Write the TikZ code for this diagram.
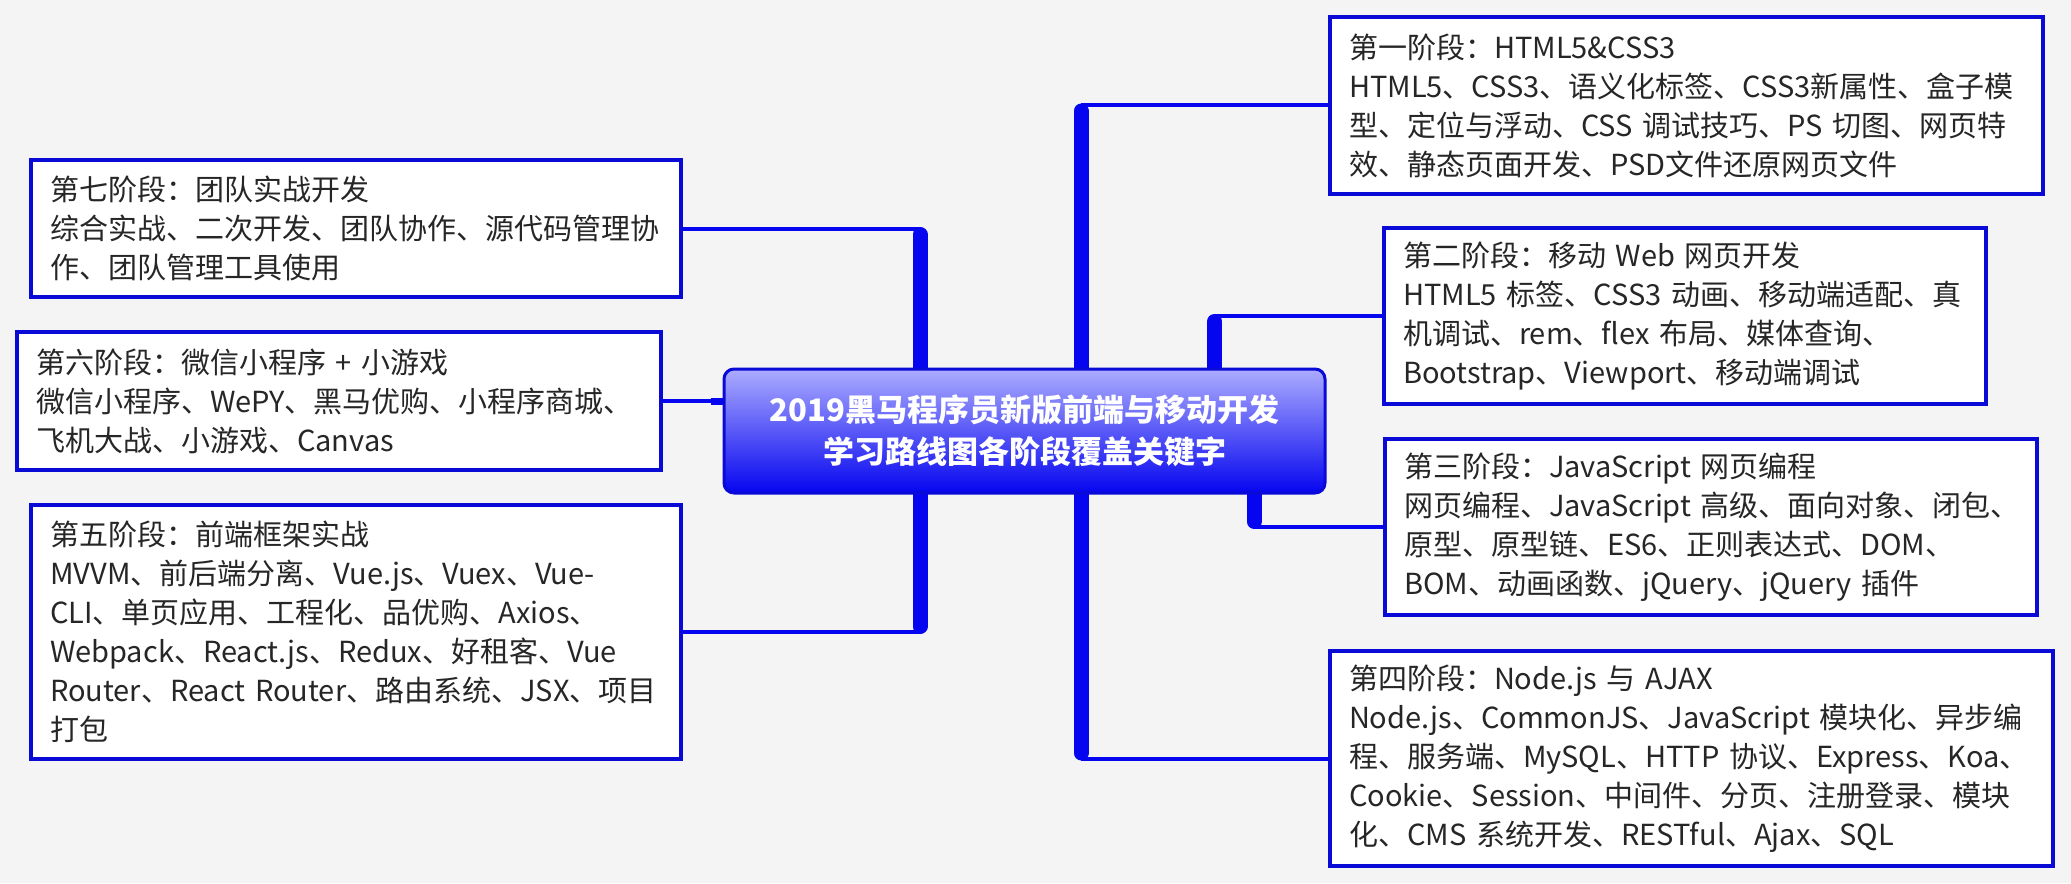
\documentclass[tikz,border=0pt]{standalone}
\usepackage{fontspec}
\setmainfont{Noto Sans CJK SC}
\usepackage{tikz}
\usetikzlibrary{backgrounds}
\definecolor{mapblue}{RGB}{5,5,240}
\definecolor{edgeblue}{RGB}{10,10,215}
\definecolor{hubtop}{RGB}{172,172,255}
\definecolor{paper}{RGB}{244,244,245}
\definecolor{ink}{RGB}{38,38,38}
\tikzstyle{stage} = [rectangle, draw=edgeblue, line width=1.6pt, fill=white, text=ink, align=left, inner xsep=9.5pt, inner ysep=0pt, font=\fontsize{14.5}{19.5}\selectfont]
\tikzstyle{hub} = [rectangle, rounded corners=5pt, draw=edgeblue, line width=1.5pt, top color=hubtop, bottom color=mapblue, text=white, align=center, font=\bfseries\fontsize{15.5}{21}\selectfont, minimum width=300.5pt, minimum height=62pt]
\tikzstyle{trunk} = [draw=mapblue, line width=7.5pt, line cap=round]
\tikzstyle{twig} = [draw=mapblue, line width=2pt]

\begin{document}
\begin{tikzpicture}[x=0.5pt, y=-0.5pt]
        \node (hub) [hub] at (1024.5,431) {2019黑马程序员新版前端与移动开发\\学习路线图各阶段覆盖关键字};

        % right side
        \node (b1) [stage, text width=337.5pt, minimum height=88.5pt] at (1686.5,105.5) {第一阶段：HTML5\&CSS3\\HTML5、CSS3、语义化标签、CSS3新属性、盒子模\\型、定位与浮动、CSS~调试技巧、PS~切图、网页特\\效、静态页面开发、PSD文件还原网页文件};
        \node (b2) [stage, text width=282pt, minimum height=88pt] at (1685,316) {第二阶段：移动 Web 网页开发\\HTML5~标签、CSS3~动画、移动端适配、真\\机调试、rem、flex~布局、媒体查询、\\Bootstrap、Viewport、移动端调试};
        \node (b3) [stage, text width=307pt, minimum height=88pt] at (1711,527) {第三阶段：JavaScript 网页编程\\网页编程、JavaScript~高级、面向对象、闭包、\\原型、原型链、ES6、正则表达式、DOM、\\BOM、动画函数、jQuery、jQuery~插件};
        \node (b4) [stage, text width=342.5pt, minimum height=107.5pt] at (1691.5,758.5) {第四阶段：Node.js 与 AJAX\\Node.js、CommonJS、JavaScript~模块化、异步编\\程、服务端、MySQL、HTTP~协议、Express、Koa、\\Cookie、Session、中间件、分页、注册登录、模块\\化、CMS~系统开发、RESTful、Ajax、SQL};

        % left side
        \node (b7) [stage, text width=306pt, minimum height=68.5pt] at (356,228.5) {第七阶段：团队实战开发\\综合实战、二次开发、团队协作、源代码管理协\\作、团队管理工具使用};
        \node (b6) [stage, text width=303pt, minimum height=69pt] at (339,401) {第六阶段：微信小程序 + 小游戏\\微信小程序、WePY、黑马优购、小程序商城、\\飞机大战、小游戏、Canvas};
        \node (b5) [stage, text width=306pt, minimum height=127pt] at (356,632) {第五阶段：前端框架实战\\MVVM、前后端分离、Vue.js、Vuex、Vue-\\CLI、单页应用、工程化、品优购、Axios、\\Webpack、React.js、Redux、好租客、Vue\\Router、React~Router、路由系统、JSX、项目\\打包};

        \coordinate (j1) at (1081,111);
        \coordinate (j2) at (1214.5,321.5);
        \coordinate (j3) at (1254,521.5);
        \coordinate (j4) at (1081,753);
        \coordinate (j7) at (920,234.5);
        \coordinate (j5) at (920,626.5);

        \begin{scope}[on background layer]
        \fill [paper] (0,0) rectangle (2071,883);
        \draw [trunk] (hub.north -| j1) -- (j1);
        \draw [twig] (b1.west) -- (b1.west -| j1);
        \draw [trunk] (hub.north -| j2) -- (j2);
        \draw [twig] (b2.west) -- (b2.west -| j2);
        \draw [trunk] (hub.south -| j3) -- (j3);
        \draw [twig] (b3.west) -- (b3.west -| j3);
        \draw [trunk] (hub.south -| j4) -- (j4);
        \draw [twig] (b4.west) -- (b4.west -| j4);
        \draw [trunk] (hub.north -| j7) -- (j7);
        \draw [twig] (b7.east) -- (b7.east -| j7);
        \draw [trunk] (hub.south -| j5) -- (j5);
        \draw [twig] (b5.east) -- (b5.east -| j5);
        \draw [twig] (b6.east) -- (b6.east -| hub.west);
        \draw [mapblue, line width=3.5pt] ([xshift=-6pt]b6.east -| hub.west) -- (b6.east -| hub.west);
        \end{scope}
    \end{tikzpicture}
\end{document}
